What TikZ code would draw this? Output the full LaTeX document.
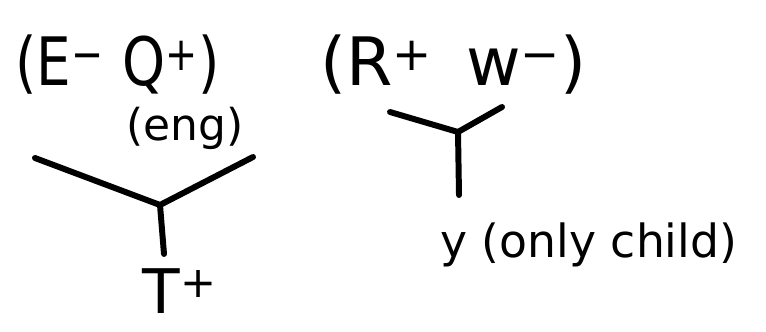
\documentclass[tikz,border=0pt]{standalone}
\usepackage{fontspec}
\usepackage{graphicx}
\setmainfont{DejaVu Sans}
\usetikzlibrary{positioning}

\tikzset{
  stroke/.style={line width=3.4pt, line cap=round, line join=round},
  hand/.style={inner sep=0pt, font=\fontsize{38}{44}\selectfont},
  handsmall/.style={inner sep=0pt, font=\fontsize{25}{30}\selectfont},
}

\begin{document}
\begin{tikzpicture}[x=0.02cm, y=-0.02cm]
  \useasboundingbox (0,0) rectangle (766,331);

  % Left pair and its tree
  \node[hand, anchor=west] (lpair) at (15,65) {\scalebox{0.82}[1]{(E\textsuperscript{−}\,\,Q\textsuperscript{+})}};
  \node[handsmall] (eng) at (185,128) {(eng)};
  \coordinate (ljoin) at (160,205);
  \coordinate (lleft) at (35,158);
  \coordinate (lright) at (253,157);
  \coordinate (ldown) at (164,254);
  \node[hand, font=\fontsize{35}{40}\selectfont, anchor=base] (tplus) at (180,313) {T\textsuperscript{+}};
  \draw[stroke] (ljoin) -- (lleft);
  \draw[stroke] (ljoin) -- (lright);
  \draw[stroke] (ljoin) -- (ldown);

  % Right pair and its tree
  \node[hand, anchor=west] (rpair) at (320,65) {(R\textsuperscript{+}\,\,\,w\textsuperscript{−})};
  \coordinate (rjoin) at (458,132);
  \coordinate (rleft) at (390,112);
  \coordinate (rright) at (502,107);
  \coordinate (rdown) at (459,195);
  \node[hand, font=\fontsize{26}{32}\selectfont, anchor=west] (ychild) at (440,245) {y (only child)};
  \draw[stroke] (rjoin) -- (rleft);
  \draw[stroke] (rjoin) -- (rright);
  \draw[stroke] (rjoin) -- (rdown);
\end{tikzpicture}
\end{document}
